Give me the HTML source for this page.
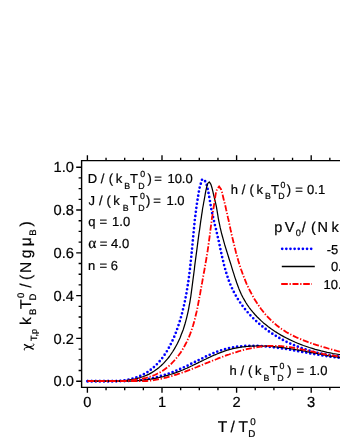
<!DOCTYPE html>
<html><head><meta charset="utf-8"><title>chart</title>
<style>
html,body{margin:0;padding:0;background:#fff;}
body{width:340px;height:440px;position:relative;overflow:hidden;font-family:"Liberation Sans",sans-serif;color:#000;}
</style></head><body>
<svg width="340" height="440" viewBox="0 0 340 440" style="position:absolute;left:0;top:0">
<defs><clipPath id="c"><rect x="81.6" y="160.65" width="300" height="226.70000000000002"/></clipPath></defs>
<g clip-path="url(#c)">
<path d="M87.6 381.2 L106.2 381.2 L106.3 381.2 L109.3 381.2 L112.3 381.2 L115.5 381.1 L118.8 380.9 L122.1 380.6 L125.5 380.1 L128.8 379.5 L132.0 378.8 L135.1 377.9 L138.2 376.8 L141.1 375.6 L143.8 374.2 L146.5 372.7 L149.1 371.0 L151.5 369.1 L153.8 367.2 L156.0 365.1 L158.2 362.9 L160.2 360.6 L162.1 358.2 L164.0 355.7 L165.7 353.1 L167.4 350.4 L168.9 347.7 L170.4 344.8 L171.8 342.0 L173.2 339.0 L174.5 336.1 L175.7 333.1 L176.8 330.0 L177.9 327.0 L178.9 323.9 L179.9 320.8 L180.8 317.7 L181.7 314.6 L182.5 311.5 L183.2 308.4 L184.0 305.3 L184.7 302.2 L185.3 299.1 L185.9 296.0 L186.5 292.9 L187.0 289.8 L187.5 286.7 L188.0 283.6 L188.5 280.4 L188.9 277.3 L189.3 274.2 L189.7 271.1 L190.1 267.9 L190.4 264.8 L190.7 261.7 L191.1 258.5 L191.4 255.4 L191.7 252.3 L192.0 249.1 L192.3 246.0 L192.6 242.8 L192.9 239.7 L193.2 236.5 L193.5 233.4 L193.8 230.3 L194.1 227.1 L194.4 224.0 L194.7 220.8 L195.1 217.7 L195.5 214.5 L195.9 211.4 L196.3 208.2 L196.7 205.1 L197.2 201.9 L197.7 198.8 L198.2 195.6 L198.7 192.5 L199.3 189.3 L199.9 186.3 L200.9 183.3 L202.1 179.4 L204.4 180.0 L206.2 183.1 L207.1 186.1 L207.7 189.2 L208.4 192.3 L209.0 195.4 L209.5 198.6 L210.1 201.8 L210.6 204.9 L211.1 208.1 L211.7 211.1 L212.4 214.2 L213.1 217.2 L213.8 220.2 L214.5 223.2 L215.2 226.2 L216.0 229.2 L216.7 232.2 L217.4 235.3 L218.1 238.3 L218.8 241.4 L219.5 244.6 L220.1 247.7 L220.8 250.9 L221.5 254.1 L222.2 257.3 L223.0 260.4 L223.7 263.6 L224.5 266.8 L225.4 269.9 L226.3 273.0 L227.3 276.1 L228.3 279.2 L229.4 282.2 L230.6 285.1 L231.9 288.0 L233.3 290.9 L234.7 293.7 L236.3 296.4 L237.9 299.1 L239.6 301.7 L241.3 304.3 L243.2 306.8 L245.1 309.2 L247.1 311.6 L249.2 314.0 L251.3 316.3 L253.5 318.5 L255.7 320.6 L258.0 322.7 L260.4 324.8 L262.8 326.8 L265.3 328.7 L267.8 330.6 L270.4 332.4 L273.0 334.1 L275.7 335.8 L278.4 337.4 L281.2 339.0 L284.0 340.5 L286.8 341.9 L289.7 343.3 L292.6 344.6 L295.6 345.8 L298.5 347.0 L301.5 348.1 L304.5 349.1 L307.6 350.1 L310.6 351.0 L313.7 351.9 L316.8 352.6 L319.9 353.4 L323.1 354.0 L326.2 354.6 L329.3 355.1 L332.5 355.5 L335.6 355.9 L338.8 356.2 L342.0 356.4 L345.1 356.6" fill="none" stroke="#0000ff" stroke-width="2.7" stroke-linecap="round" stroke-dasharray="0 4.1"/>
<path d="M87.6 381.2 L118.0 381.2 L119.5 381.1 L121.0 381.1 L122.5 381.1 L124.0 381.1 L125.5 381.1 L127.0 381.0 L128.5 381.0 L130.0 380.9 L131.5 380.8 L133.0 380.7 L134.5 380.6 L136.0 380.5 L137.5 380.4 L139.0 380.2 L140.5 380.1 L141.9 379.9 L143.4 379.7 L144.9 379.5 L146.4 379.2 L147.8 379.0 L149.3 378.7 L150.7 378.5 L152.2 378.2 L153.6 377.9 L155.1 377.5 L156.5 377.2 L158.0 376.8 L159.4 376.4 L160.8 376.0 L162.2 375.6 L163.7 375.2 L165.1 374.7 L166.5 374.3 L167.9 373.8 L169.3 373.3 L170.7 372.8 L172.1 372.3 L173.5 371.7 L174.9 371.2 L176.2 370.6 L177.6 370.0 L179.0 369.4 L180.4 368.8 L181.8 368.2 L183.1 367.6 L184.5 367.0 L185.9 366.4 L187.2 365.7 L188.6 365.1 L190.0 364.4 L191.3 363.7 L192.7 363.1 L194.1 362.4 L195.4 361.7 L196.8 361.0 L198.2 360.3 L199.5 359.7 L200.9 359.0 L202.3 358.3 L203.6 357.6 L205.0 357.0 L206.3 356.3 L207.7 355.6 L209.1 355.0 L210.5 354.4 L211.8 353.8 L213.2 353.2 L214.6 352.6 L216.0 352.1 L217.4 351.5 L218.8 351.0 L220.2 350.6 L221.6 350.1 L223.0 349.7 L224.4 349.3 L225.8 348.9 L227.2 348.5 L228.6 348.2 L230.0 347.9 L231.5 347.6 L232.9 347.4 L234.3 347.1 L235.8 346.9 L237.2 346.7 L238.6 346.5 L240.1 346.4 L241.5 346.2 L243.0 346.1 L244.4 346.0 L245.9 345.9 L247.3 345.9 L248.8 345.8 L250.3 345.8 L251.7 345.8 L253.2 345.8 L254.7 345.8 L256.1 345.9 L257.6 345.9 L259.1 346.0 L260.6 346.0 L262.0 346.1 L263.5 346.2 L265.0 346.4 L266.5 346.5 L268.0 346.6 L269.5 346.8 L270.9 346.9 L272.4 347.1 L273.9 347.3 L275.4 347.5 L276.9 347.7 L278.4 347.9 L279.9 348.1 L281.4 348.3 L282.9 348.5 L284.4 348.8 L285.9 349.0 L287.4 349.2 L288.8 349.5 L290.3 349.8 L291.8 350.0 L293.3 350.3 L294.8 350.5 L296.3 350.8 L297.8 351.1 L299.3 351.4 L300.8 351.6 L302.3 351.9 L303.8 352.2 L305.3 352.4 L306.7 352.7 L308.2 353.0 L309.7 353.3 L311.2 353.5 L312.7 353.8 L314.2 354.1 L315.6 354.3 L317.1 354.6 L318.6 354.8 L320.1 355.1 L321.5 355.3 L323.0 355.6 L324.5 355.8 L325.9 356.0 L327.4 356.3 L328.9 356.5 L330.3 356.7 L331.8 356.9 L333.2 357.1 L334.7 357.2 L336.1 357.4 L337.6 357.6 L339.0 357.7 L340.5 357.9 L341.9 358.0 L343.4 358.1 L344.8 358.2" fill="none" stroke="#0000ff" stroke-width="2.7" stroke-linecap="round" stroke-dasharray="0 4.1"/>
<path d="M87.6 381.2 L116.0 381.2 L116.0 381.2 L118.9 381.0 L121.9 380.8 L125.0 380.5 L128.1 380.1 L131.2 379.6 L134.3 379.1 L137.4 378.4 L140.5 377.5 L143.5 376.5 L146.3 375.4 L149.1 374.1 L151.7 372.6 L154.3 371.0 L156.7 369.3 L159.1 367.4 L161.3 365.5 L163.5 363.4 L165.5 361.2 L167.5 358.9 L169.4 356.5 L171.1 354.0 L172.8 351.5 L174.4 348.9 L175.9 346.2 L177.4 343.5 L178.7 340.7 L180.0 337.9 L181.1 335.1 L182.2 332.2 L183.3 329.4 L184.2 326.5 L185.1 323.5 L185.9 320.6 L186.7 317.6 L187.4 314.6 L188.1 311.6 L188.7 308.6 L189.2 305.6 L189.8 302.6 L190.3 299.5 L190.8 296.5 L191.2 293.4 L191.6 290.4 L192.0 287.3 L192.4 284.3 L192.8 281.2 L193.2 278.1 L193.6 275.1 L194.0 272.0 L194.4 269.0 L194.7 265.9 L195.1 262.9 L195.5 259.9 L195.9 256.8 L196.3 253.8 L196.7 250.8 L197.1 247.8 L197.5 244.8 L197.9 241.7 L198.3 238.7 L198.7 235.7 L199.1 232.7 L199.6 229.7 L200.0 226.7 L200.4 223.6 L200.8 220.6 L201.3 217.6 L201.7 214.6 L202.2 211.6 L202.6 208.5 L203.2 205.5 L203.7 202.5 L204.3 199.4 L204.8 196.5 L205.3 193.7 L205.8 190.8 L206.6 187.3 L207.8 183.4 L209.3 181.9 L210.9 184.4 L212.1 188.3 L212.9 191.6 L213.5 194.4 L214.2 197.2 L214.9 200.1 L215.6 203.1 L216.3 206.1 L216.8 209.2 L217.3 212.2 L217.8 215.2 L218.3 218.3 L218.9 221.3 L219.5 224.2 L220.1 227.2 L220.8 230.2 L221.5 233.1 L222.3 236.0 L223.1 238.9 L223.9 241.8 L224.7 244.7 L225.6 247.6 L226.5 250.5 L227.4 253.4 L228.3 256.3 L229.2 259.2 L230.2 262.2 L231.1 265.1 L232.0 268.1 L232.9 271.1 L233.9 274.1 L234.8 277.1 L235.8 280.0 L236.8 283.0 L237.9 286.0 L239.0 288.9 L240.2 291.7 L241.4 294.5 L242.8 297.3 L244.3 299.9 L245.8 302.5 L247.5 305.1 L249.2 307.5 L251.0 309.9 L252.9 312.2 L254.9 314.5 L257.0 316.7 L259.1 318.8 L261.3 320.9 L263.5 322.9 L265.9 324.8 L268.3 326.7 L270.7 328.5 L273.2 330.2 L275.7 331.9 L278.3 333.5 L281.0 335.1 L283.7 336.6 L286.4 338.0 L289.2 339.4 L292.0 340.7 L294.8 342.0 L297.6 343.2 L300.5 344.4 L303.4 345.5 L306.4 346.5 L309.3 347.5 L312.3 348.4 L315.2 349.3 L318.2 350.1 L321.2 350.9 L324.2 351.6 L327.2 352.3 L330.1 352.9 L333.1 353.5 L336.1 354.0 L339.0 354.5 L342.0 354.9 L344.9 355.3" fill="none" stroke="#000" stroke-width="1.25" stroke-linejoin="round"/>
<path d="M87.6 381.2 L123.0 381.2 L124.4 381.1 L125.9 381.1 L127.3 381.1 L128.8 381.1 L130.3 381.1 L131.8 381.0 L133.2 381.0 L134.7 380.9 L136.2 380.8 L137.6 380.7 L139.1 380.6 L140.6 380.4 L142.0 380.3 L143.5 380.1 L144.9 380.0 L146.3 379.8 L147.8 379.6 L149.2 379.4 L150.7 379.2 L152.1 378.9 L153.5 378.7 L154.9 378.4 L156.3 378.1 L157.8 377.8 L159.2 377.5 L160.6 377.2 L162.0 376.8 L163.4 376.5 L164.8 376.1 L166.2 375.7 L167.6 375.3 L169.0 374.9 L170.4 374.5 L171.7 374.0 L173.1 373.6 L174.5 373.1 L175.9 372.6 L177.2 372.1 L178.6 371.6 L180.0 371.1 L181.3 370.5 L182.7 370.0 L184.1 369.4 L185.4 368.8 L186.8 368.2 L188.1 367.6 L189.5 367.0 L190.8 366.3 L192.1 365.7 L193.5 365.0 L194.8 364.4 L196.2 363.7 L197.5 363.1 L198.8 362.4 L200.2 361.8 L201.5 361.1 L202.9 360.5 L204.2 359.8 L205.5 359.2 L206.9 358.5 L208.2 357.9 L209.6 357.3 L210.9 356.6 L212.2 356.0 L213.6 355.4 L214.9 354.8 L216.3 354.3 L217.6 353.7 L219.0 353.1 L220.3 352.6 L221.7 352.1 L223.1 351.6 L224.4 351.1 L225.8 350.7 L227.2 350.2 L228.5 349.8 L229.9 349.4 L231.3 349.1 L232.7 348.7 L234.1 348.4 L235.5 348.1 L236.9 347.8 L238.3 347.6 L239.7 347.4 L241.1 347.1 L242.5 346.9 L243.9 346.8 L245.3 346.6 L246.8 346.5 L248.2 346.3 L249.6 346.2 L251.0 346.1 L252.5 346.1 L253.9 346.0 L255.3 346.0 L256.8 345.9 L258.2 345.9 L259.7 345.9 L261.1 346.0 L262.5 346.0 L264.0 346.0 L265.4 346.1 L266.9 346.2 L268.3 346.2 L269.8 346.3 L271.2 346.5 L272.7 346.6 L274.1 346.7 L275.6 346.8 L277.1 347.0 L278.5 347.2 L280.0 347.3 L281.4 347.5 L282.9 347.7 L284.4 347.9 L285.8 348.1 L287.3 348.3 L288.7 348.5 L290.2 348.7 L291.7 349.0 L293.1 349.2 L294.6 349.4 L296.0 349.7 L297.5 349.9 L298.9 350.2 L300.4 350.5 L301.9 350.7 L303.3 351.0 L304.8 351.2 L306.2 351.5 L307.7 351.8 L309.1 352.1 L310.6 352.3 L312.0 352.6 L313.5 352.9 L314.9 353.2 L316.4 353.4 L317.8 353.7 L319.3 354.0 L320.7 354.2 L322.1 354.5 L323.6 354.8 L325.0 355.0 L326.4 355.3 L327.9 355.6 L329.3 355.8 L330.7 356.1 L332.1 356.3 L333.5 356.5 L334.9 356.8 L336.4 357.0 L337.8 357.2 L339.2 357.4 L340.6 357.6 L342.0 357.8 L343.4 358.0 L344.8 358.2" fill="none" stroke="#000" stroke-width="1.25" stroke-linejoin="round"/>
<path d="M87.6 381.2 L122.7 381.2 L125.4 380.9 L128.3 380.6 L131.2 380.3 L134.2 379.9 L137.2 379.5 L140.2 379.0 L143.2 378.5 L146.2 377.8 L149.1 377.0 L151.9 376.1 L154.7 375.0 L157.3 373.7 L159.9 372.4 L162.4 370.9 L164.8 369.2 L167.1 367.5 L169.3 365.6 L171.4 363.6 L173.4 361.5 L175.4 359.4 L177.2 357.1 L179.0 354.8 L180.7 352.4 L182.3 349.9 L183.8 347.4 L185.2 344.8 L186.6 342.2 L187.8 339.5 L189.0 336.8 L190.1 334.1 L191.1 331.4 L192.1 328.6 L193.0 325.8 L193.8 322.9 L194.6 320.1 L195.3 317.2 L196.0 314.3 L196.7 311.4 L197.3 308.5 L197.9 305.6 L198.4 302.7 L199.0 299.7 L199.5 296.8 L200.1 293.9 L200.6 290.9 L201.1 288.0 L201.6 285.1 L202.2 282.2 L202.7 279.3 L203.2 276.4 L203.7 273.5 L204.3 270.6 L204.8 267.7 L205.3 264.8 L205.8 261.9 L206.3 259.0 L206.8 256.1 L207.2 253.2 L207.7 250.4 L208.1 247.5 L208.5 244.6 L208.9 241.7 L209.3 238.8 L209.7 235.9 L210.1 233.0 L210.4 230.1 L210.8 227.2 L211.2 224.2 L211.6 221.3 L211.9 218.4 L212.4 215.4 L212.8 212.5 L213.3 209.5 L213.8 206.5 L214.2 203.6 L214.7 200.7 L215.1 197.9 L215.5 195.1 L216.0 192.3 L217.1 189.0 L219.1 186.5 L221.0 189.1 L222.1 192.4 L222.7 195.1 L223.3 197.8 L224.0 200.7 L224.8 203.6 L225.5 206.5 L226.1 209.4 L226.8 212.2 L227.4 215.0 L228.0 217.9 L228.7 220.8 L229.3 223.6 L229.9 226.5 L230.5 229.4 L231.2 232.3 L231.8 235.2 L232.5 238.1 L233.2 241.0 L233.9 243.9 L234.6 246.7 L235.3 249.6 L236.0 252.5 L236.8 255.3 L237.6 258.2 L238.4 261.0 L239.3 263.9 L240.2 266.7 L241.1 269.5 L242.1 272.3 L243.1 275.1 L244.2 277.8 L245.3 280.6 L246.4 283.3 L247.6 286.0 L248.9 288.6 L250.2 291.3 L251.6 293.9 L253.0 296.4 L254.4 299.0 L256.0 301.5 L257.6 303.9 L259.2 306.3 L260.9 308.7 L262.7 311.0 L264.5 313.3 L266.4 315.5 L268.4 317.6 L270.4 319.7 L272.5 321.7 L274.7 323.6 L276.9 325.5 L279.2 327.3 L281.6 329.0 L284.0 330.6 L286.5 332.2 L289.1 333.6 L291.7 335.0 L294.4 336.4 L297.1 337.7 L299.9 338.9 L302.7 340.0 L305.5 341.1 L308.3 342.2 L311.2 343.2 L314.0 344.2 L316.9 345.1 L319.8 346.0 L322.6 346.9 L325.5 347.7 L328.3 348.5 L331.1 349.3 L333.9 350.1 L336.7 350.9 L339.4 351.6 L342.1 352.4 L344.7 353.1" fill="none" stroke="#ff0000" stroke-width="1.8" stroke-dasharray="6.1 1.75 1.3 1.75"/>
<path d="M87.6 381.2 L128.0 381.2 L129.2 381.0 L130.7 381.1 L132.2 381.2 L133.7 381.2 L135.1 381.2 L136.6 381.2 L138.0 381.2 L139.5 381.2 L141.0 381.2 L142.4 381.2 L143.8 381.2 L145.3 381.1 L146.7 381.0 L148.1 380.9 L149.5 380.7 L150.9 380.5 L152.3 380.4 L153.8 380.1 L155.2 379.9 L156.5 379.7 L157.9 379.4 L159.3 379.1 L160.7 378.9 L162.1 378.6 L163.5 378.2 L164.8 377.9 L166.2 377.6 L167.6 377.2 L168.9 376.8 L170.3 376.5 L171.6 376.1 L173.0 375.7 L174.3 375.2 L175.7 374.8 L177.0 374.4 L178.4 373.9 L179.7 373.5 L181.1 373.0 L182.4 372.5 L183.7 372.1 L185.1 371.6 L186.4 371.1 L187.7 370.6 L189.1 370.1 L190.4 369.6 L191.7 369.1 L193.0 368.5 L194.4 368.0 L195.7 367.5 L197.0 367.0 L198.3 366.4 L199.7 365.9 L201.0 365.4 L202.3 364.8 L203.6 364.3 L204.9 363.7 L206.3 363.2 L207.6 362.7 L208.9 362.1 L210.2 361.6 L211.6 361.1 L212.9 360.5 L214.2 360.0 L215.6 359.5 L216.9 359.0 L218.2 358.4 L219.5 357.9 L220.9 357.4 L222.2 356.9 L223.6 356.4 L224.9 355.9 L226.2 355.4 L227.6 354.9 L228.9 354.5 L230.3 354.0 L231.6 353.6 L233.0 353.1 L234.3 352.7 L235.7 352.3 L237.1 351.8 L238.4 351.4 L239.8 351.0 L241.2 350.6 L242.5 350.3 L243.9 349.9 L245.3 349.6 L246.7 349.2 L248.0 348.9 L249.4 348.6 L250.8 348.3 L252.2 348.0 L253.6 347.8 L254.9 347.5 L256.3 347.3 L257.7 347.1 L259.1 346.9 L260.5 346.7 L261.9 346.5 L263.3 346.4 L264.7 346.2 L266.1 346.1 L267.5 346.0 L268.9 345.9 L270.3 345.9 L271.7 345.9 L273.1 345.8 L274.5 345.8 L275.9 345.9 L277.3 345.9 L278.8 346.0 L280.2 346.1 L281.6 346.2 L283.0 346.3 L284.4 346.5 L285.8 346.6 L287.2 346.8 L288.7 347.0 L290.1 347.2 L291.5 347.4 L292.9 347.7 L294.3 347.9 L295.7 348.2 L297.2 348.4 L298.6 348.7 L300.0 349.0 L301.4 349.3 L302.8 349.6 L304.3 349.9 L305.7 350.2 L307.1 350.5 L308.5 350.8 L309.9 351.1 L311.3 351.4 L312.8 351.7 L314.2 352.0 L315.6 352.3 L317.0 352.7 L318.4 353.0 L319.8 353.2 L321.2 353.5 L322.6 353.8 L324.0 354.1 L325.4 354.4 L326.8 354.6 L328.2 354.9 L329.6 355.1 L331.0 355.3 L332.4 355.5 L333.8 355.7 L335.2 355.9 L336.6 356.1 L338.0 356.2 L339.4 356.4 L340.8 356.5 L342.1 356.6 L343.5 356.6 L344.9 356.7" fill="none" stroke="#ff0000" stroke-width="1.8" stroke-dasharray="6.1 1.75 1.3 1.75"/>
</g>
<path d="M81.6 387.35 V160.65 H345 M81.6 387.35 H345" fill="none" stroke="#000" stroke-width="1.4" stroke-linecap="square"/>
<path d="M76.20 381.20 H81.60 M78.60 370.50 H81.60 M78.60 359.80 H81.60 M78.60 349.10 H81.60 M76.20 338.40 H81.60 M78.60 327.70 H81.60 M78.60 317.00 H81.60 M78.60 306.30 H81.60 M76.20 295.60 H81.60 M78.60 284.90 H81.60 M78.60 274.20 H81.60 M78.60 263.50 H81.60 M76.20 252.80 H81.60 M78.60 242.10 H81.60 M78.60 231.40 H81.60 M78.60 220.70 H81.60 M76.20 210.00 H81.60 M78.60 199.30 H81.60 M78.60 188.60 H81.60 M78.60 177.90 H81.60 M76.20 167.20 H81.60 M87.40 387.35 V392.65 M87.40 160.65 V155.35 M106.05 387.35 V390.35 M106.05 160.65 V157.65 M124.70 387.35 V390.35 M124.70 160.65 V157.65 M143.35 387.35 V390.35 M143.35 160.65 V157.65 M162.00 387.35 V392.65 M162.00 160.65 V155.35 M180.65 387.35 V390.35 M180.65 160.65 V157.65 M199.30 387.35 V390.35 M199.30 160.65 V157.65 M217.95 387.35 V390.35 M217.95 160.65 V157.65 M236.60 387.35 V392.65 M236.60 160.65 V155.35 M255.25 387.35 V390.35 M255.25 160.65 V157.65 M273.90 387.35 V390.35 M273.90 160.65 V157.65 M292.55 387.35 V390.35 M292.55 160.65 V157.65 M311.20 387.35 V392.65 M311.20 160.65 V155.35 M329.85 387.35 V390.35 M329.85 160.65 V157.65" fill="none" stroke="#000" stroke-width="1.35"/>
<!-- legend -->
<path d="M282.2 248.8 H312" stroke="#0000ff" stroke-width="2.7" stroke-linecap="round" stroke-dasharray="0 4.14" fill="none"/>
<path d="M281.8 266.5 H314.8" stroke="#000" stroke-width="1.3" fill="none"/>
<path d="M281.2 284 H312" stroke="#ff0000" stroke-width="1.8" stroke-dasharray="6.6 1.7 1.3 1.7 6 1.7 1.3 1.7" fill="none"/>
</svg>
<svg width="340" height="440" viewBox="0 0 340 440" style="position:absolute;left:0;top:0;will-change:transform;opacity:0.999;text-rendering:geometricPrecision" font-family='"Liberation Sans", sans-serif' fill="#000" stroke="#000" stroke-width="0.22"><text x="87.83" y="183.30" font-size="13">D</text>
<text x="100.80" y="183.30" font-size="13">/</text>
<text x="108.79" y="183.30" font-size="13">(</text>
<text x="115.73" y="183.30" font-size="13">k</text>
<text x="124.18" y="188.60" font-size="8.8">B</text>
<text x="129.91" y="183.30" font-size="13">T</text>
<text x="138.28" y="188.60" font-size="8.8">D</text>
<text x="140.16" y="177.00" font-size="8.8">0</text>
<text x="147.53" y="183.30" font-size="13">)</text>
<text x="154.18" y="183.30" font-size="13">=</text>
<text x="167.41" y="183.30" font-size="13">10.0</text>
<text x="88.41" y="205.20" font-size="13">J</text>
<text x="98.90" y="205.20" font-size="13">/</text>
<text x="106.59" y="205.20" font-size="13">(</text>
<text x="113.13" y="205.20" font-size="13">k</text>
<text x="122.68" y="210.50" font-size="8.8">B</text>
<text x="129.71" y="205.20" font-size="13">T</text>
<text x="138.18" y="210.50" font-size="8.8">D</text>
<text x="140.06" y="198.90" font-size="8.8">0</text>
<text x="145.94" y="205.20" font-size="13">)</text>
<text x="153.18" y="205.20" font-size="13">=</text>
<text x="166.51" y="205.20" font-size="13">1.0</text>
<text x="88.35" y="225.60" font-size="13">q</text>
<text x="99.58" y="225.60" font-size="13">=</text>
<text x="112.11" y="225.60" font-size="13">1.0</text>
<text x="88.31" y="247.90" font-size="15.5" font-family='&quot;Liberation Serif&quot;, serif'>α</text>
<text x="99.78" y="247.90" font-size="13">=</text>
<text x="111.11" y="247.90" font-size="13">4.0</text>
<text x="88.04" y="270.30" font-size="13">n</text>
<text x="99.58" y="270.30" font-size="13">=</text>
<text x="110.75" y="270.30" font-size="13">6</text>
<text x="230.80" y="194.10" font-size="13">h</text>
<text x="241.80" y="194.10" font-size="13">/</text>
<text x="249.39" y="194.10" font-size="13">(</text>
<text x="256.43" y="194.10" font-size="13">k</text>
<text x="264.88" y="199.40" font-size="8.8">B</text>
<text x="270.91" y="194.10" font-size="13">T</text>
<text x="278.28" y="199.40" font-size="8.8">D</text>
<text x="280.46" y="187.80" font-size="8.8">0</text>
<text x="286.63" y="194.10" font-size="13">)</text>
<text x="295.18" y="194.10" font-size="13">=</text>
<text x="307.09" y="194.10" font-size="13">0.1</text>
<text x="229.40" y="375.30" font-size="13">h</text>
<text x="240.50" y="375.30" font-size="13">/</text>
<text x="247.99" y="375.30" font-size="13">(</text>
<text x="255.03" y="375.30" font-size="13">k</text>
<text x="263.48" y="380.60" font-size="8.8">B</text>
<text x="269.71" y="375.30" font-size="13">T</text>
<text x="277.28" y="380.60" font-size="8.8">D</text>
<text x="279.56" y="369.00" font-size="8.8">0</text>
<text x="287.13" y="375.30" font-size="13">)</text>
<text x="296.38" y="375.30" font-size="13">=</text>
<text x="309.31" y="375.30" font-size="13">1.0</text>
<text x="274.27" y="232.20" font-size="14.5">p</text>
<text x="284.64" y="232.20" font-size="14.5">V</text>
<text x="295.64" y="236.10" font-size="9.2">0</text>
<text x="301.80" y="232.20" font-size="14.5">/</text>
<text x="311.00" y="232.20" font-size="14.5">(</text>
<text x="317.41" y="232.20" font-size="14.5">N</text>
<text x="331.53" y="232.20" font-size="14.5">k</text>
<text x="326.63" y="253.60" font-size="13">-5</text>
<text x="330.89" y="271.00" font-size="13">0.0</text>
<text x="323.61" y="288.60" font-size="13">10.0</text>
<text x="87.40" y="406.8" font-size="14.7" text-anchor="middle">0</text>
<text x="162.00" y="406.8" font-size="14.7" text-anchor="middle">1</text>
<text x="236.60" y="406.8" font-size="14.7" text-anchor="middle">2</text>
<text x="311.20" y="406.8" font-size="14.7" text-anchor="middle">3</text>
<text x="73.9" y="386.40" font-size="14.7" text-anchor="end">0.0</text>
<text x="73.9" y="343.60" font-size="14.7" text-anchor="end">0.2</text>
<text x="73.9" y="300.80" font-size="14.7" text-anchor="end">0.4</text>
<text x="73.9" y="258.00" font-size="14.7" text-anchor="end">0.6</text>
<text x="73.9" y="215.20" font-size="14.7" text-anchor="end">0.8</text>
<text x="73.9" y="172.40" font-size="14.7" text-anchor="end">1.0</text>
<text x="217.86" y="431.90" font-size="15.5">T</text>
<text x="230.60" y="431.90" font-size="15.5">/</text>
<text x="238.46" y="431.90" font-size="15.5">T</text>
<text x="248.20" y="437.10" font-size="9.8">D</text>
<text x="250.22" y="425.40" font-size="9.8">0</text>
<g transform="translate(30.9 350.6) rotate(-90)"><path d="M0.2 -5.9 C1.0 -7.3 2.3 -7.0 2.8 -5.4 L4.5 1.5 C5.0 3.2 6.1 3.5 7.0 2.3" fill="none" stroke="#000" stroke-width="1.0"/><path d="M6.3 -6.9 L1.2 2.8" fill="none" stroke="#000" stroke-width="1.35"/><text x="25.55" y="0.00" font-size="15.6">k</text><text x="35.52" y="5.10" font-size="9.5">B</text><text x="41.56" y="0.00" font-size="15.6">T</text><text x="50.22" y="5.10" font-size="9.5">D</text><text x="52.53" y="-7.00" font-size="9.5">0</text><text x="62.80" y="0.00" font-size="15.6">/</text><text x="70.73" y="0.00" font-size="15.6">(</text><text x="77.52" y="0.00" font-size="15.6">N</text><text x="92.44" y="0.00" font-size="15.6">g</text><text x="104.45" y="0.00" font-size="15.6">μ</text><text x="114.82" y="5.10" font-size="9.5">B</text><text x="124.12" y="0.00" font-size="15.6">)</text><text x="9.60" y="5.60" font-size="9.0">T,p</text></g></svg>
</body></html>
